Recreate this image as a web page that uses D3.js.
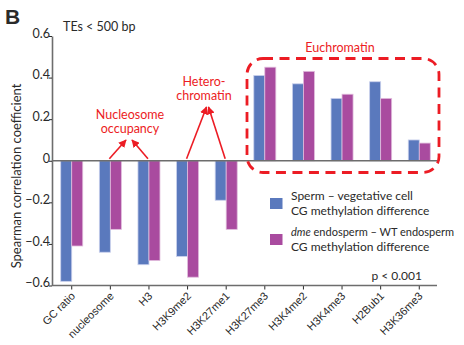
<!DOCTYPE html>
<html>
<head>
<meta charset="utf-8">
<script src="https://cdn.jsdelivr.net/npm/d3@7"></script>
<style>
  html, body { margin: 0; padding: 0; background: #fff; }
  svg { display: block; font-family: "Lato", "Open Sans", sans-serif; }
</style>
</head>
<body>
<svg id="chart" width="464" height="345"></svg>
<script>
// Histone marks / features correlated with CG methylation differences (TEs < 500 bp)
const categories = ["GC ratio", "nucleosome", "H3", "H3K9me2", "H3K27me1",
                    "H3K27me3", "H3K4me2", "H3K4me3", "H2Bub1", "H3K36me3"];
const spermVeg = [-0.58, -0.44, -0.50, -0.46, -0.19, 0.41, 0.37, 0.30, 0.38, 0.10];
const dmeWT    = [-0.41, -0.33, -0.48, -0.56, -0.33, 0.45, 0.43, 0.32, 0.30, 0.085];
const yTicks = [0.6, 0.4, 0.2, 0, -0.2, -0.4, -0.6];
const seriesNames = ["spermVeg", "dmeWT"];

const svg = d3.select("#chart");
const blue = "#5a79bd", magenta = "#a94b9f";
const red = "#ec1c24", axisGrey = "#6d6d6d", textCol = "#2a2a2a";

const x = d3.scaleBand().domain(categories).range([53, 438])
  .paddingInner(0.43).paddingOuter(0.2);
const xs = d3.scaleBand().domain(seriesNames).range([0, x.bandwidth()]);
const y = d3.scaleLinear().domain([-0.6, 0.6]).range([285.5, 36]);

const data = categories.map((c, i) => ({ c, vals: [spermVeg[i], dmeWT[i]] }));

// Bars
const groups = svg.append("g").selectAll("g").data(data).join("g")
  .attr("transform", d => `translate(${x(d.c)},0)`);
groups.selectAll("rect")
  .data(d => d.vals.map((v, j) => ({ v, s: seriesNames[j] })))
  .join("rect")
  .attr("x", d => xs(d.s))
  .attr("width", xs.bandwidth())
  .attr("y", d => y(Math.max(0, d.v)))
  .attr("height", d => Math.abs(y(d.v) - y(0)))
  .attr("fill", d => d.s === "spermVeg" ? blue : magenta)
  .attr("stroke", d => d.s === "spermVeg" ? "#c9d0ec" : "#e0bcdc")
  .attr("stroke-width", 0.8);

// Y axis
const yAxis = svg.append("g").attr("transform", "translate(52,0)")
  .call(d3.axisLeft(y).tickValues(yTicks).tickSize(3).tickSizeOuter(0)
    .tickFormat(d => d === 0 ? "0" : d3.format(".1f")(d)));
yAxis.select(".domain").attr("stroke", axisGrey).attr("stroke-width", 1.6);
yAxis.selectAll(".tick line").attr("stroke", textCol);
yAxis.selectAll(".tick text").attr("fill", textCol).attr("font-size", 12.5)
  .attr("font-family", "Lato, sans-serif").attr("x", -2).attr("dy", "0.1em");

// Zero line
svg.append("line").attr("x1", 52).attr("x2", 437)
  .attr("y1", y(0)).attr("y2", y(0))
  .attr("stroke", axisGrey).attr("stroke-width", 1.6);

// Bottom axis
const xAxis = svg.append("g").attr("transform", `translate(0,${y(-0.6)})`)
  .call(d3.axisBottom(x).tickSize(4).tickSizeOuter(0));
xAxis.select(".domain").remove();
svg.append("line").attr("x1", 52).attr("x2", 437)
  .attr("y1", y(-0.6)).attr("y2", y(-0.6))
  .attr("stroke", axisGrey).attr("stroke-width", 1.6);
xAxis.selectAll(".tick line").attr("stroke", textCol);
xAxis.selectAll(".tick text")
  .attr("fill", textCol).attr("font-size", 11)
  .attr("text-anchor", "end")
  .attr("transform", "rotate(-45)")
  .attr("x", -5).attr("y", 7).attr("dy", "0.35em");

// Y axis title
svg.append("text")
  .attr("transform", `translate(21,${176}) rotate(-90)`)
  .attr("text-anchor", "middle").attr("fill", textCol)
  .attr("font-size", 13).text("Spearman correlation coefficient");

// Panel letter and subtitle
svg.append("text").attr("x", 5).attr("y", 24).attr("font-size", 21)
  .attr("font-weight", "bold").attr("font-family", "Liberation Sans, Arial, sans-serif")
  .attr("fill", textCol).text("B");
svg.append("text").attr("x", 63).attr("y", 31).attr("font-size", 12.5)
  .attr("fill", textCol).text("TEs < 500 bp");

// Annotations
function redText(lines, cx, y0, lh) {
  const t = svg.append("text").attr("text-anchor", "middle")
    .attr("fill", red).attr("font-size", 12.5);
  lines.forEach((l, i) => t.append("tspan").attr("x", cx).attr("y", y0 + i * lh).text(l));
}
redText(["Nucleosome", "occupancy"], 130, 119, 14);
redText(["Hetero-", "chromatin"], 204, 86, 14);
redText(["Euchromatin"], 340, 52, 14);

const defs = svg.append("defs");
defs.append("marker").attr("id", "ah").attr("viewBox", "0 0 10 10")
  .attr("refX", 9).attr("refY", 5).attr("markerWidth", 5).attr("markerHeight", 5)
  .attr("orient", "auto-start-reverse")
  .append("path").attr("d", "M0,0 L10,5 L0,10 Z").attr("fill", red);

function arrow(x1, y1, x2, y2) {
  svg.append("line").attr("x1", x1).attr("y1", y1).attr("x2", x2).attr("y2", y2)
    .attr("stroke", red).attr("stroke-width", 1.6).attr("marker-end", "url(#ah)");
}
const baseY = y(0) - 2;
arrow(x("nucleosome") + x.bandwidth() / 2 - 1, baseY, 126, 140);
arrow(x("H3") + x.bandwidth() / 2 - 1, baseY, 132, 140);
arrow(x("H3K9me2") + x.bandwidth() / 2 - 1, baseY, 206.5, 107);
arrow(x("H3K27me1") + x.bandwidth() / 2 - 1, baseY, 208.5, 107);

// Euchromatin box
svg.append("rect").attr("x", 247).attr("y", 58.5).attr("width", 192).attr("height", 114)
  .attr("rx", 16).attr("ry", 16).attr("fill", "none")
  .attr("stroke", red).attr("stroke-width", 2.8).attr("stroke-dasharray", "10,6.5");

// Legend
svg.append("rect").attr("x", 270).attr("y", 198).attr("width", 12.5).attr("height", 11).attr("fill", blue);
svg.append("rect").attr("x", 270).attr("y", 234).attr("width", 12.5).attr("height", 11).attr("fill", magenta);
const lt1 = svg.append("text").attr("fill", textCol).attr("font-size", 12);
lt1.append("tspan").attr("x", 291).attr("y", 200).text("Sperm – vegetative cell");
lt1.append("tspan").attr("x", 291).attr("y", 215).text("CG methylation difference");
const row = svg.append("text").attr("fill", textCol).attr("font-size", 11)
  .attr("x", 291).attr("y", 236);
row.append("tspan").attr("font-style", "italic").text("dme");
row.append("tspan").text(" endosperm – WT endosperm");
svg.append("text").attr("fill", textCol).attr("font-size", 12)
  .attr("x", 291).attr("y", 251).text("CG methylation difference");

svg.append("text").attr("x", 422).attr("y", 280).attr("text-anchor", "end")
  .attr("fill", textCol).attr("font-size", 12).text("p < 0.001");
</script>
</body>
</html>
